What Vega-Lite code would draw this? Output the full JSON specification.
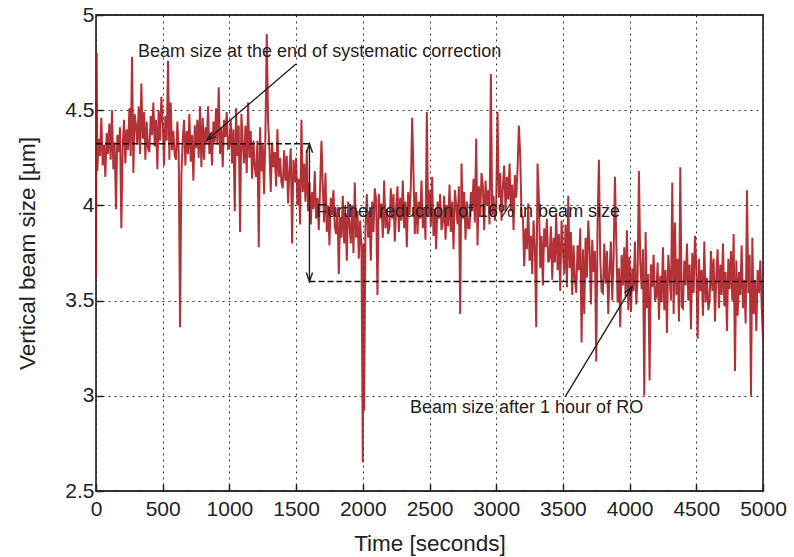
{
  "$schema": "https://vega.github.io/schema/vega-lite/v6.json",
  "width": 667,
  "height": 476,
  "autosize": {"type": "none"},
  "padding": {"left": 96, "top": 15, "right": 31, "bottom": 66},
  "background": "white",
  "config": {
    "font": "Liberation Sans",
    "view": {"stroke": "#333", "strokeWidth": 1.8},
    "axis": {
      "grid": true, "gridColor": "#222", "gridDash": [2, 4], "gridWidth": 1, "gridOpacity": 0.9,
      "domain": false, "tickColor": "#222", "tickSize": -7, "tickWidth": 1.5,
      "labelFontSize": 21, "labelColor": "#222", "labelFont": "Liberation Sans", "labelFlush": false, "labelOverlap": false,
      "titleFontSize": 22.5, "titleFontWeight": "normal", "titleColor": "#222", "titleFont": "Liberation Sans"
    }
  },
  "layer": [
    {
      "data": {"values": [
{"t":0,"v":3.62},{"t":5,"v":4.80},{"t":10,"v":4.18},{"t":20,"v":4.35},{"t":30,"v":4.26},{"t":40,"v":4.46},{"t":50,"v":4.21},{"t":60,"v":4.32},{"t":70,"v":4.15},{"t":80,"v":4.38},{"t":90,"v":4.27},
{"t":100,"v":4.43},{"t":110,"v":4.24},{"t":120,"v":4.50},{"t":130,"v":4.19},{"t":140,"v":4.33},{"t":150,"v":3.98},{"t":160,"v":4.37},{"t":170,"v":4.28},{"t":180,"v":4.41},{"t":190,"v":3.88},
{"t":200,"v":4.31},{"t":210,"v":4.45},{"t":220,"v":4.22},{"t":230,"v":4.40},{"t":240,"v":4.29},{"t":250,"v":4.51},{"t":260,"v":4.26},{"t":270,"v":4.78},{"t":280,"v":4.17},{"t":290,"v":4.48},
{"t":300,"v":4.42},{"t":310,"v":4.32},{"t":320,"v":4.52},{"t":330,"v":4.27},{"t":340,"v":4.64},{"t":350,"v":4.35},{"t":360,"v":4.49},{"t":370,"v":4.24},{"t":380,"v":4.44},{"t":390,"v":4.30},
{"t":400,"v":4.28},{"t":410,"v":4.47},{"t":420,"v":4.37},{"t":430,"v":4.54},{"t":440,"v":4.31},{"t":450,"v":4.45},{"t":460,"v":4.19},{"t":470,"v":4.50},{"t":480,"v":4.34},{"t":490,"v":4.57},
{"t":500,"v":4.44},{"t":510,"v":4.21},{"t":520,"v":4.47},{"t":530,"v":4.34},{"t":540,"v":4.76},{"t":550,"v":4.24},{"t":560,"v":4.54},{"t":570,"v":4.29},{"t":580,"v":4.39},{"t":590,"v":4.26},
{"t":600,"v":4.24},{"t":610,"v":4.44},{"t":620,"v":4.28},{"t":630,"v":3.36},{"t":640,"v":4.16},{"t":650,"v":4.34},{"t":660,"v":4.45},{"t":670,"v":4.21},{"t":680,"v":4.39},{"t":690,"v":4.27},
{"t":700,"v":4.48},{"t":710,"v":4.23},{"t":720,"v":4.37},{"t":730,"v":4.13},{"t":740,"v":4.42},{"t":750,"v":4.30},{"t":760,"v":4.45},{"t":770,"v":4.25},{"t":780,"v":4.52},{"t":790,"v":4.20},
{"t":800,"v":4.46},{"t":810,"v":4.24},{"t":820,"v":4.41},{"t":830,"v":4.32},{"t":840,"v":4.52},{"t":850,"v":4.27},{"t":860,"v":4.38},{"t":870,"v":4.21},{"t":880,"v":4.44},{"t":890,"v":4.33},
{"t":900,"v":4.51},{"t":910,"v":4.32},{"t":920,"v":4.62},{"t":930,"v":4.27},{"t":940,"v":4.41},{"t":950,"v":4.20},{"t":960,"v":4.45},{"t":970,"v":4.36},{"t":980,"v":4.49},{"t":990,"v":4.30},
{"t":1000,"v":4.31},{"t":1010,"v":4.45},{"t":1020,"v":4.22},{"t":1030,"v":4.40},{"t":1040,"v":3.97},{"t":1050,"v":4.51},{"t":1060,"v":4.26},{"t":1070,"v":4.42},{"t":1080,"v":3.86},{"t":1090,"v":4.48},
{"t":1100,"v":4.32},{"t":1110,"v":4.22},{"t":1120,"v":4.42},{"t":1130,"v":4.17},{"t":1140,"v":4.54},{"t":1150,"v":4.25},{"t":1160,"v":4.39},{"t":1170,"v":4.14},{"t":1180,"v":4.34},{"t":1190,"v":4.20},
{"t":1200,"v":4.15},{"t":1210,"v":4.34},{"t":1220,"v":3.78},{"t":1230,"v":4.41},{"t":1240,"v":4.18},{"t":1250,"v":4.32},{"t":1260,"v":4.06},{"t":1270,"v":4.37},{"t":1280,"v":4.90},{"t":1290,"v":4.44},
{"t":1300,"v":4.30},{"t":1310,"v":4.07},{"t":1320,"v":4.33},{"t":1330,"v":4.20},{"t":1340,"v":4.28},{"t":1350,"v":4.10},{"t":1360,"v":4.40},{"t":1370,"v":4.15},{"t":1380,"v":4.25},{"t":1390,"v":4.12},
{"t":1400,"v":4.09},{"t":1410,"v":4.29},{"t":1420,"v":4.13},{"t":1430,"v":4.26},{"t":1440,"v":4.01},{"t":1450,"v":4.19},{"t":1460,"v":4.30},{"t":1470,"v":3.80},{"t":1480,"v":4.24},{"t":1490,"v":4.12},
{"t":1500,"v":4.25},{"t":1510,"v":4.00},{"t":1520,"v":4.14},{"t":1530,"v":3.90},{"t":1540,"v":4.45},{"t":1550,"v":4.07},{"t":1560,"v":4.22},{"t":1570,"v":4.02},{"t":1580,"v":4.29},{"t":1590,"v":3.97},
{"t":1600,"v":4.12},{"t":1610,"v":3.90},{"t":1620,"v":4.07},{"t":1630,"v":3.98},{"t":1640,"v":4.18},{"t":1650,"v":3.93},{"t":1660,"v":4.04},{"t":1670,"v":3.87},{"t":1680,"v":4.10},{"t":1690,"v":4.34},
{"t":1700,"v":4.10},{"t":1710,"v":3.91},{"t":1720,"v":4.17},{"t":1730,"v":3.86},{"t":1740,"v":4.00},{"t":1750,"v":3.79},{"t":1760,"v":4.04},{"t":1770,"v":3.95},{"t":1780,"v":4.08},{"t":1790,"v":3.89},
{"t":1800,"v":3.85},{"t":1810,"v":3.99},{"t":1820,"v":3.64},{"t":1830,"v":3.94},{"t":1840,"v":3.83},{"t":1850,"v":4.05},{"t":1860,"v":3.80},{"t":1870,"v":3.96},{"t":1880,"v":3.71},{"t":1890,"v":4.02},
{"t":1900,"v":3.90},{"t":1910,"v":3.80},{"t":1920,"v":4.00},{"t":1930,"v":3.75},{"t":1940,"v":4.12},{"t":1950,"v":3.83},{"t":1960,"v":3.97},{"t":1970,"v":3.72},{"t":1980,"v":3.92},{"t":1990,"v":3.78},
{"t":2000,"v":2.65},{"t":2005,"v":3.80},{"t":2010,"v":2.92},{"t":2020,"v":3.89},{"t":2030,"v":4.06},{"t":2040,"v":3.83},{"t":2050,"v":3.97},{"t":2060,"v":3.71},{"t":2070,"v":4.02},{"t":2080,"v":3.86},{"t":2090,"v":4.09},
{"t":2100,"v":4.03},{"t":2110,"v":3.53},{"t":2120,"v":4.06},{"t":2130,"v":3.93},{"t":2140,"v":4.01},{"t":2150,"v":3.83},{"t":2160,"v":4.13},{"t":2170,"v":3.88},{"t":2180,"v":3.98},{"t":2190,"v":3.85},
{"t":2200,"v":3.89},{"t":2210,"v":4.09},{"t":2220,"v":3.93},{"t":2230,"v":4.06},{"t":2240,"v":3.81},{"t":2250,"v":3.99},{"t":2260,"v":4.10},{"t":2270,"v":3.86},{"t":2280,"v":4.04},{"t":2290,"v":3.92},
{"t":2300,"v":4.13},{"t":2310,"v":3.88},{"t":2320,"v":4.02},{"t":2330,"v":3.78},{"t":2340,"v":4.07},{"t":2350,"v":3.95},{"t":2360,"v":4.10},{"t":2370,"v":4.46},{"t":2380,"v":4.17},{"t":2390,"v":3.85},
{"t":2400,"v":4.07},{"t":2410,"v":3.85},{"t":2420,"v":4.02},{"t":2430,"v":3.93},{"t":2440,"v":4.13},{"t":2450,"v":3.88},{"t":2460,"v":3.99},{"t":2470,"v":3.82},{"t":2480,"v":4.49},{"t":2490,"v":3.94},
{"t":2500,"v":4.08},{"t":2510,"v":3.89},{"t":2520,"v":4.15},{"t":2530,"v":3.84},{"t":2540,"v":3.98},{"t":2550,"v":3.77},{"t":2560,"v":4.02},{"t":2570,"v":3.93},{"t":2580,"v":4.06},{"t":2590,"v":3.87},
{"t":2600,"v":3.91},{"t":2610,"v":4.05},{"t":2620,"v":3.82},{"t":2630,"v":4.00},{"t":2640,"v":3.89},{"t":2650,"v":4.11},{"t":2660,"v":3.86},{"t":2670,"v":4.02},{"t":2680,"v":3.77},{"t":2690,"v":4.08},
{"t":2700,"v":4.00},{"t":2710,"v":3.90},{"t":2720,"v":4.10},{"t":2730,"v":3.43},{"t":2740,"v":4.22},{"t":2750,"v":3.93},{"t":2760,"v":4.07},{"t":2770,"v":3.82},{"t":2780,"v":4.02},{"t":2790,"v":3.88},
{"t":2800,"v":3.88},{"t":2810,"v":4.07},{"t":2820,"v":3.97},{"t":2830,"v":4.14},{"t":2840,"v":3.91},{"t":2850,"v":4.35},{"t":2860,"v":3.79},{"t":2870,"v":4.10},{"t":2880,"v":3.94},{"t":2890,"v":4.17},
{"t":2900,"v":4.10},{"t":2910,"v":3.87},{"t":2920,"v":4.13},{"t":2930,"v":4.00},{"t":2940,"v":4.08},{"t":2950,"v":3.90},{"t":2960,"v":4.69},{"t":2970,"v":3.95},{"t":2980,"v":4.05},{"t":2990,"v":3.92},
{"t":3000,"v":4.00},{"t":3010,"v":4.49},{"t":3020,"v":4.04},{"t":3030,"v":4.17},{"t":3040,"v":3.92},{"t":3050,"v":4.10},{"t":3060,"v":4.21},{"t":3070,"v":3.97},{"t":3080,"v":4.15},{"t":3090,"v":4.03},
{"t":3100,"v":4.22},{"t":3110,"v":3.97},{"t":3120,"v":4.11},{"t":3130,"v":3.87},{"t":3140,"v":4.16},{"t":3150,"v":4.04},{"t":3160,"v":4.19},{"t":3170,"v":4.42},{"t":3180,"v":4.26},{"t":3190,"v":3.94},
{"t":3200,"v":3.94},{"t":3210,"v":3.68},{"t":3220,"v":3.88},{"t":3230,"v":3.77},{"t":3240,"v":4.01},{"t":3250,"v":3.71},{"t":3260,"v":3.84},{"t":3270,"v":3.64},{"t":3280,"v":3.92},{"t":3290,"v":3.78},
{"t":3300,"v":3.36},{"t":3310,"v":4.22},{"t":3320,"v":4.04},{"t":3330,"v":3.67},{"t":3340,"v":3.84},{"t":3350,"v":3.58},{"t":3360,"v":3.88},{"t":3370,"v":3.78},{"t":3380,"v":3.93},{"t":3390,"v":3.70},
{"t":3400,"v":3.72},{"t":3410,"v":3.89},{"t":3420,"v":3.61},{"t":3430,"v":3.83},{"t":3440,"v":3.70},{"t":3450,"v":3.96},{"t":3460,"v":3.66},{"t":3470,"v":3.85},{"t":3480,"v":3.55},{"t":3490,"v":3.92},
{"t":3500,"v":3.77},{"t":3510,"v":3.64},{"t":3520,"v":3.90},{"t":3530,"v":3.57},{"t":3540,"v":4.05},{"t":3550,"v":3.67},{"t":3560,"v":3.86},{"t":3570,"v":3.53},{"t":3580,"v":3.79},{"t":3590,"v":3.61},
{"t":3600,"v":3.54},{"t":3610,"v":3.79},{"t":3620,"v":3.66},{"t":3630,"v":3.88},{"t":3640,"v":3.28},{"t":3650,"v":3.77},{"t":3660,"v":3.43},{"t":3670,"v":3.83},{"t":3680,"v":3.62},{"t":3690,"v":3.92},
{"t":3700,"v":3.78},{"t":3710,"v":3.48},{"t":3720,"v":3.82},{"t":3730,"v":3.65},{"t":3740,"v":3.76},{"t":3750,"v":3.18},{"t":3760,"v":3.91},{"t":3770,"v":4.24},{"t":3780,"v":3.72},{"t":3790,"v":3.55},
{"t":3800,"v":3.54},{"t":3810,"v":3.80},{"t":3820,"v":3.59},{"t":3830,"v":3.76},{"t":3840,"v":3.43},{"t":3850,"v":3.67},{"t":3860,"v":3.81},{"t":3870,"v":3.50},{"t":3880,"v":3.73},{"t":3890,"v":4.15},
{"t":3900,"v":3.82},{"t":3910,"v":3.49},{"t":3920,"v":3.67},{"t":3930,"v":3.36},{"t":3940,"v":3.74},{"t":3950,"v":3.58},{"t":3960,"v":3.78},{"t":3970,"v":3.52},{"t":3980,"v":3.87},{"t":3990,"v":3.45},
{"t":4000,"v":3.73},{"t":4010,"v":3.44},{"t":4020,"v":3.67},{"t":4030,"v":3.55},{"t":4040,"v":3.81},{"t":4050,"v":3.48},{"t":4060,"v":3.63},{"t":4070,"v":4.18},{"t":4080,"v":3.70},{"t":4090,"v":3.56},
{"t":4100,"v":3.77},{"t":4110,"v":3.00},{"t":4120,"v":3.86},{"t":4130,"v":3.46},{"t":4140,"v":3.64},{"t":4150,"v":3.08},{"t":4160,"v":3.69},{"t":4170,"v":3.57},{"t":4180,"v":3.74},{"t":4190,"v":3.50},
{"t":4200,"v":3.52},{"t":4210,"v":3.70},{"t":4220,"v":3.40},{"t":4230,"v":3.63},{"t":4240,"v":3.49},{"t":4250,"v":3.78},{"t":4260,"v":3.45},{"t":4270,"v":3.66},{"t":4280,"v":3.33},{"t":4290,"v":3.74},
{"t":4300,"v":3.63},{"t":4310,"v":3.50},{"t":4320,"v":4.12},{"t":4330,"v":3.43},{"t":4340,"v":3.91},{"t":4350,"v":3.53},{"t":4360,"v":3.72},{"t":4370,"v":3.39},{"t":4380,"v":4.20},{"t":4390,"v":3.47},
{"t":4400,"v":3.46},{"t":4410,"v":3.71},{"t":4420,"v":3.58},{"t":4430,"v":3.80},{"t":4440,"v":3.50},{"t":4450,"v":3.69},{"t":4460,"v":3.35},{"t":4470,"v":3.75},{"t":4480,"v":3.54},{"t":4490,"v":3.84},
{"t":4500,"v":3.68},{"t":4510,"v":3.30},{"t":4520,"v":3.72},{"t":4530,"v":3.55},{"t":4540,"v":3.66},{"t":4550,"v":3.42},{"t":4560,"v":3.81},{"t":4570,"v":3.49},{"t":4580,"v":3.62},{"t":4590,"v":3.45},
{"t":4600,"v":3.50},{"t":4610,"v":3.76},{"t":4620,"v":3.55},{"t":4630,"v":3.72},{"t":4640,"v":3.39},{"t":4650,"v":3.63},{"t":4660,"v":3.77},{"t":4670,"v":3.46},{"t":4680,"v":3.69},{"t":4690,"v":3.53},
{"t":4700,"v":3.80},{"t":4710,"v":3.47},{"t":4720,"v":3.65},{"t":4730,"v":3.34},{"t":4740,"v":3.72},{"t":4750,"v":3.56},{"t":4760,"v":3.76},{"t":4770,"v":3.50},{"t":4780,"v":3.85},{"t":4790,"v":3.13},
{"t":4800,"v":3.71},{"t":4810,"v":3.42},{"t":4820,"v":3.65},{"t":4830,"v":3.53},{"t":4840,"v":3.79},{"t":4850,"v":3.46},{"t":4860,"v":3.61},{"t":4870,"v":3.38},{"t":4880,"v":4.08},{"t":4890,"v":3.54},
{"t":4900,"v":3.74},{"t":4910,"v":3.00},{"t":4920,"v":3.83},{"t":4930,"v":3.43},{"t":4940,"v":3.61},{"t":4950,"v":3.34},{"t":4960,"v":3.66},{"t":4970,"v":3.54},{"t":4980,"v":3.71},{"t":4990,"v":3.47},
{"t":5000,"v":3.30}
      ]},
      "mark": {"type": "line", "color": "#a8161d", "strokeWidth": 2, "opacity": 0.88},
      "encoding": {
        "x": {"field": "t", "type": "quantitative", "scale": {"domain": [0, 5000], "nice": false},
              "axis": {"title": "Time [seconds]", "values": [0,500,1000,1500,2000,2500,3000,3500,4000,4500,5000], "format": "d", "labelPadding": 14, "titlePadding": 13}},
        "y": {"field": "v", "type": "quantitative", "scale": {"domain": [2.5, 5], "nice": false, "zero": false},
              "axis": {"title": "Vertical beam size [µm]", "values": [2.5,3,3.5,4,4.5,5], "format": "~g", "labelPadding": 9, "titlePadding": 25}}
      }
    },
    {
      "data": {"values": [{"x1": 0, "x2": 1600, "y1": 4.324, "y2": 4.324}, {"x1": 1600, "x2": 5000, "y1": 3.6, "y2": 3.6}]},
      "mark": {"type": "rule", "color": "#111", "strokeWidth": 1.6, "strokeDash": [6, 3]},
      "encoding": {
        "x": {"field": "x1", "type": "quantitative"},
        "x2": {"field": "x2"},
        "y": {"field": "y1", "type": "quantitative"},
        "y2": {"field": "y2"}
      }
    },
    {
      "data": {"values": [
        {"x1": 1499, "y1": 4.743, "x2": 832, "y2": 4.343},
        {"x1": 1600, "y1": 4.324, "x2": 1600, "y2": 3.6},
        {"x1": 3521, "y1": 3.0, "x2": 4018, "y2": 3.573}
      ]},
      "mark": {"type": "rule", "color": "#222", "strokeWidth": 1.4},
      "encoding": {
        "x": {"field": "x1", "type": "quantitative"},
        "x2": {"field": "x2"},
        "y": {"field": "y1", "type": "quantitative"},
        "y2": {"field": "y2"}
      }
    },
    {
      "data": {"values": [{"x": 832, "y": 4.343}]},
      "mark": {"type": "point", "shape": "M-0.35,1L0,0L0.35,1", "size": 324, "filled": false, "stroke": "#222", "strokeWidth": 1.4, "opacity": 1, "angle": 229.5},
      "encoding": {"x": {"field": "x", "type": "quantitative"}, "y": {"field": "y", "type": "quantitative"}}
    },
    {
      "data": {"values": [{"x": 1600, "y": 4.324}]},
      "mark": {"type": "point", "shape": "M-0.35,1L0,0L0.35,1", "size": 324, "filled": false, "stroke": "#222", "strokeWidth": 1.4, "opacity": 1, "angle": 0},
      "encoding": {"x": {"field": "x", "type": "quantitative"}, "y": {"field": "y", "type": "quantitative"}}
    },
    {
      "data": {"values": [{"x": 1600, "y": 3.6}]},
      "mark": {"type": "point", "shape": "M-0.35,1L0,0L0.35,1", "size": 324, "filled": false, "stroke": "#222", "strokeWidth": 1.4, "opacity": 1, "angle": 180},
      "encoding": {"x": {"field": "x", "type": "quantitative"}, "y": {"field": "y", "type": "quantitative"}}
    },
    {
      "data": {"values": [{"x": 4018, "y": 3.573}]},
      "mark": {"type": "point", "shape": "M-0.35,1L0,0L0.35,1", "size": 324, "filled": false, "stroke": "#222", "strokeWidth": 1.4, "opacity": 1, "angle": 31.3},
      "encoding": {"x": {"field": "x", "type": "quantitative"}, "y": {"field": "y", "type": "quantitative"}}
    },
    {
      "data": {"values": [
        {"x": 315, "y": 4.806, "label": "Beam size at the end of systematic correction"},
        {"x": 1649, "y": 3.965, "label": "Further reduction of 16% in beam size"},
        {"x": 2354, "y": 2.936, "label": "Beam size after 1 hour of RO"}
      ]},
      "mark": {"type": "text", "align": "left", "baseline": "middle", "fontSize": 18, "color": "#222", "font": "Liberation Sans"},
      "encoding": {
        "x": {"field": "x", "type": "quantitative"},
        "y": {"field": "y", "type": "quantitative"},
        "text": {"field": "label"}
      }
    }
  ]
}
